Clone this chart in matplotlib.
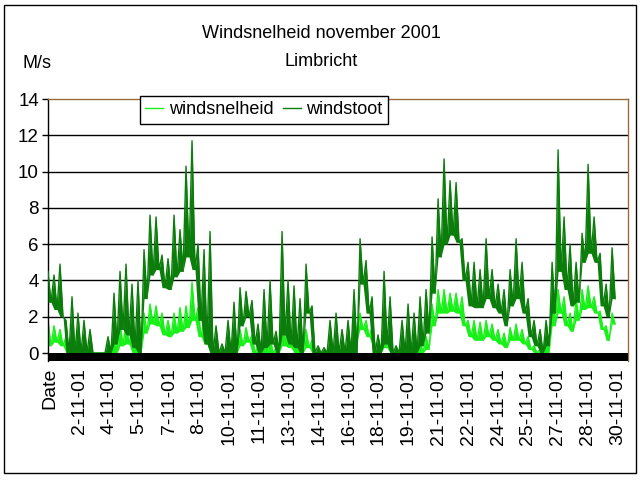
import numpy as np
import matplotlib
matplotlib.use("Agg")
import matplotlib.pyplot as plt
from matplotlib.patches import Rectangle

plt.rcParams['font.family'] = ['Liberation Sans', 'DejaVu Sans']

# x labels (category axis)
tick_labels = ["Date", "2-11-01", "4-11-01", "5-11-01", "7-11-01", "8-11-01",
               "10-11-01", "11-11-01", "13-11-01", "14-11-01", "16-11-01",
               "18-11-01", "19-11-01", "21-11-01", "22-11-01", "24-11-01",
               "25-11-01", "27-11-01", "28-11-01", "30-11-01"]

# windstoot (gust) envelope: high / low per time slice
gust_hi = [4.5, 4.3, 4.9, 1.8, 3.1, 2.2, 1.8, 1.3, 0, 0,
           0.9, 3.3, 4.5, 4.9, 3.8, 4.0, 5.7, 7.6, 7.5, 5.4,
           5.2, 7.6, 6.8, 10.3, 11.7, 6.0, 5.7, 6.7, 1.5, 0.5,
           1.8, 2.8, 3.6, 3.4, 2.9, 1.6, 3.5, 4.0, 1.2, 6.7,
           4.0, 3.7, 3.0, 4.9, 2.6, 0.4, 0.3, 1.8, 2.2, 1.3,
           1.8, 3.5, 6.3, 5.1, 3.1, 1.0, 4.5, 3.1, 0.4, 1.8,
           2.7, 2.2, 3.1, 3.5, 6.4, 8.5, 10.7, 9.5, 9.4, 6.3,
           5.0, 5.0, 4.6, 6.3, 4.6, 3.8, 3.5, 4.6, 6.3, 5.0,
           3.0, 1.8, 1.3, 1.8, 5.0, 11.2, 7.5, 6.0, 5.0, 6.6,
           10.4, 7.5, 5.5, 3.8, 5.8]
gust_lo = [2.8, 2.4, 2.0, 0, 0, 0, 0, 0, 0, 0,
           0, 0.5, 1.3, 1.0, 0.3, 0, 3.0, 4.3, 4.6, 3.6,
           3.5, 4.2, 4.5, 5.3, 4.6, 1.8, 0.5, 0, 0, 0,
           0, 0, 1.5, 2.0, 0.5, 0, 0.3, 0.5, 0, 1.0,
           0.5, 0.3, 0, 2.2, 0, 0, 0, 0, 0, 0,
           0, 0, 3.8, 2.2, 0, 0, 0.5, 0, 0, 0,
           0, 0, 0.4, 1.1, 3.3, 5.3, 6.0, 6.5, 6.1, 4.0,
           2.6, 2.5, 2.5, 3.0, 2.5, 2.2, 1.5, 2.6, 3.0, 2.2,
           0.9, 0.4, 0, 0.4, 2.2, 4.5, 3.5, 2.6, 2.8, 5.0,
           5.5, 5.0, 2.6, 2.0, 3.0]

# windsnelheid (speed) envelope
speed_hi = [1.8, 1.5, 1.3, 0.9, 1.3, 1.3, 0.5, 0.2, 0, 0,
            0, 1.3, 1.6, 1.8, 1.3, 1.2, 2.2, 2.7, 2.6, 2.2,
            1.8, 2.2, 2.5, 2.6, 3.9, 2.5, 1.8, 1.3, 0.5, 0,
            0.4, 1.3, 1.3, 1.4, 1.0, 0.4, 0.9, 0.9, 0.3, 2.7,
            1.8, 0.9, 0.9, 1.3, 0.7, 0, 0, 0, 0, 0,
            0.2, 2.2, 2.2, 1.8, 1.4, 0.4, 1.8, 0.4, 0, 0.2,
            0.7, 0.7, 0.7, 0.9, 2.7, 3.5, 3.5, 3.3, 3.3, 3.1,
            1.8, 1.8, 1.7, 1.8, 1.6, 1.3, 1.1, 1.4, 1.6, 1.3,
            0.9, 0.4, 0.2, 0.9, 3.5, 3.5, 3.1, 2.2, 3.0, 3.5,
            3.7, 3.1, 2.3, 1.5, 2.2]
speed_lo = [0.4, 0.6, 0.4, 0, 0, 0, 0, 0, 0, 0,
            0, 0, 0.4, 0.5, 0, 0, 1.1, 1.6, 1.5, 1.0,
            0.9, 1.1, 1.2, 1.4, 1.8, 0.9, 0.5, 0, 0, 0,
            0, 0, 0.4, 0.6, 0, 0, 0, 0, 0, 0.4,
            0.3, 0, 0, 0.3, 0, 0, 0, 0, 0, 0,
            0, 0.7, 1.3, 0.9, 0.5, 0, 0.3, 0, 0, 0,
            0, 0, 0, 0.2, 1.5, 2.2, 2.2, 2.3, 2.2, 1.5,
            0.9, 0.7, 0.7, 0.9, 0.7, 0.5, 0.3, 0.7, 0.7, 0.5,
            0.2, 0, 0, 0, 1.5, 2.2, 1.5, 1.2, 1.8, 2.4,
            2.5, 2.2, 1.3, 0.7, 1.6]

gust = np.column_stack([gust_hi, gust_lo]).ravel()
speed = np.column_stack([speed_hi, speed_lo]).ravel()
gust_base = np.repeat(gust_lo, 2)
speed_base = np.repeat(speed_lo, 2)
xs = np.arange(len(gust))

W, H = 640, 480
fig = plt.figure(figsize=(6.4, 4.8), dpi=100)
fig.patch.set_facecolor('white')
fig.add_artist(Rectangle((4 / W, 7 / H), 632 / W, 468 / H, transform=fig.transFigure,
                         fill=False, edgecolor='black', lw=1.0))

ax = fig.add_axes([48 / W, 1 - 361 / H, 580 / W, 262 / H])
ax.set_xlim(0, 193.3)
ax.set_ylim(-0.44, 14)

for yv in range(2, 13, 2):
    ax.axhline(yv, color='black', lw=1.0, zorder=1)

dark = '#0B7D0B'
light = '#19F019'
ax.fill_between(xs, speed_base, speed, color=light, lw=0, zorder=2)
ax.plot(xs, speed, color=light, lw=1.0, zorder=2.2, label='windsnelheid')
ax.fill_between(xs, gust_base, gust, color=dark, lw=0, zorder=3)
ax.plot(xs, gust, color=dark, lw=1.0, zorder=3.2, label='windstoot')

ax.axhspan(-0.44, 0, color='black', zorder=5, lw=0)

ax.set_yticks(range(0, 15, 2))
ax.set_yticklabels([str(v) for v in range(0, 15, 2)], fontsize=13.5)
ax.tick_params(axis='y', length=4.5, width=1, pad=2, color='black')

tick_step = 29.9 / 3
ax.set_xticks([0.5 + k * tick_step for k in range(len(tick_labels))])
ax.set_xticklabels(tick_labels, rotation=90, fontsize=14)
ax.tick_params(axis='x', length=0, pad=5)

brown = '#9C6B3C'
ax.spines['top'].set_color(brown)
ax.spines['right'].set_color(brown)
ax.spines['left'].set_color('black')
ax.spines['bottom'].set_visible(False)
for s in ax.spines.values():
    s.set_linewidth(1.0)

fig.text(321 / W, 1 - 34 / H, "Windsnelheid november 2001", ha='center', va='center', fontsize=13)
fig.text(321 / W, 1 - 61 / H, "Limbricht", ha='center', va='center', fontsize=13)
fig.text(37 / W, 1 - 63 / H, "M/s", ha='center', va='center', fontsize=13)

leg = ax.legend(loc='upper left', bbox_to_anchor=(140 / W, 1 - 96 / H),
                bbox_transform=fig.transFigure, ncol=2, fontsize=13,
                handlelength=1.0, handletextpad=0.3, columnspacing=0.5,
                borderpad=0.3, borderaxespad=0, frameon=True, fancybox=False,
                framealpha=1)
leg.get_frame().set_edgecolor('black')
leg.get_frame().set_linewidth(1.0)
leg.set_zorder(10)

fig.savefig("out.png", dpi=100)
